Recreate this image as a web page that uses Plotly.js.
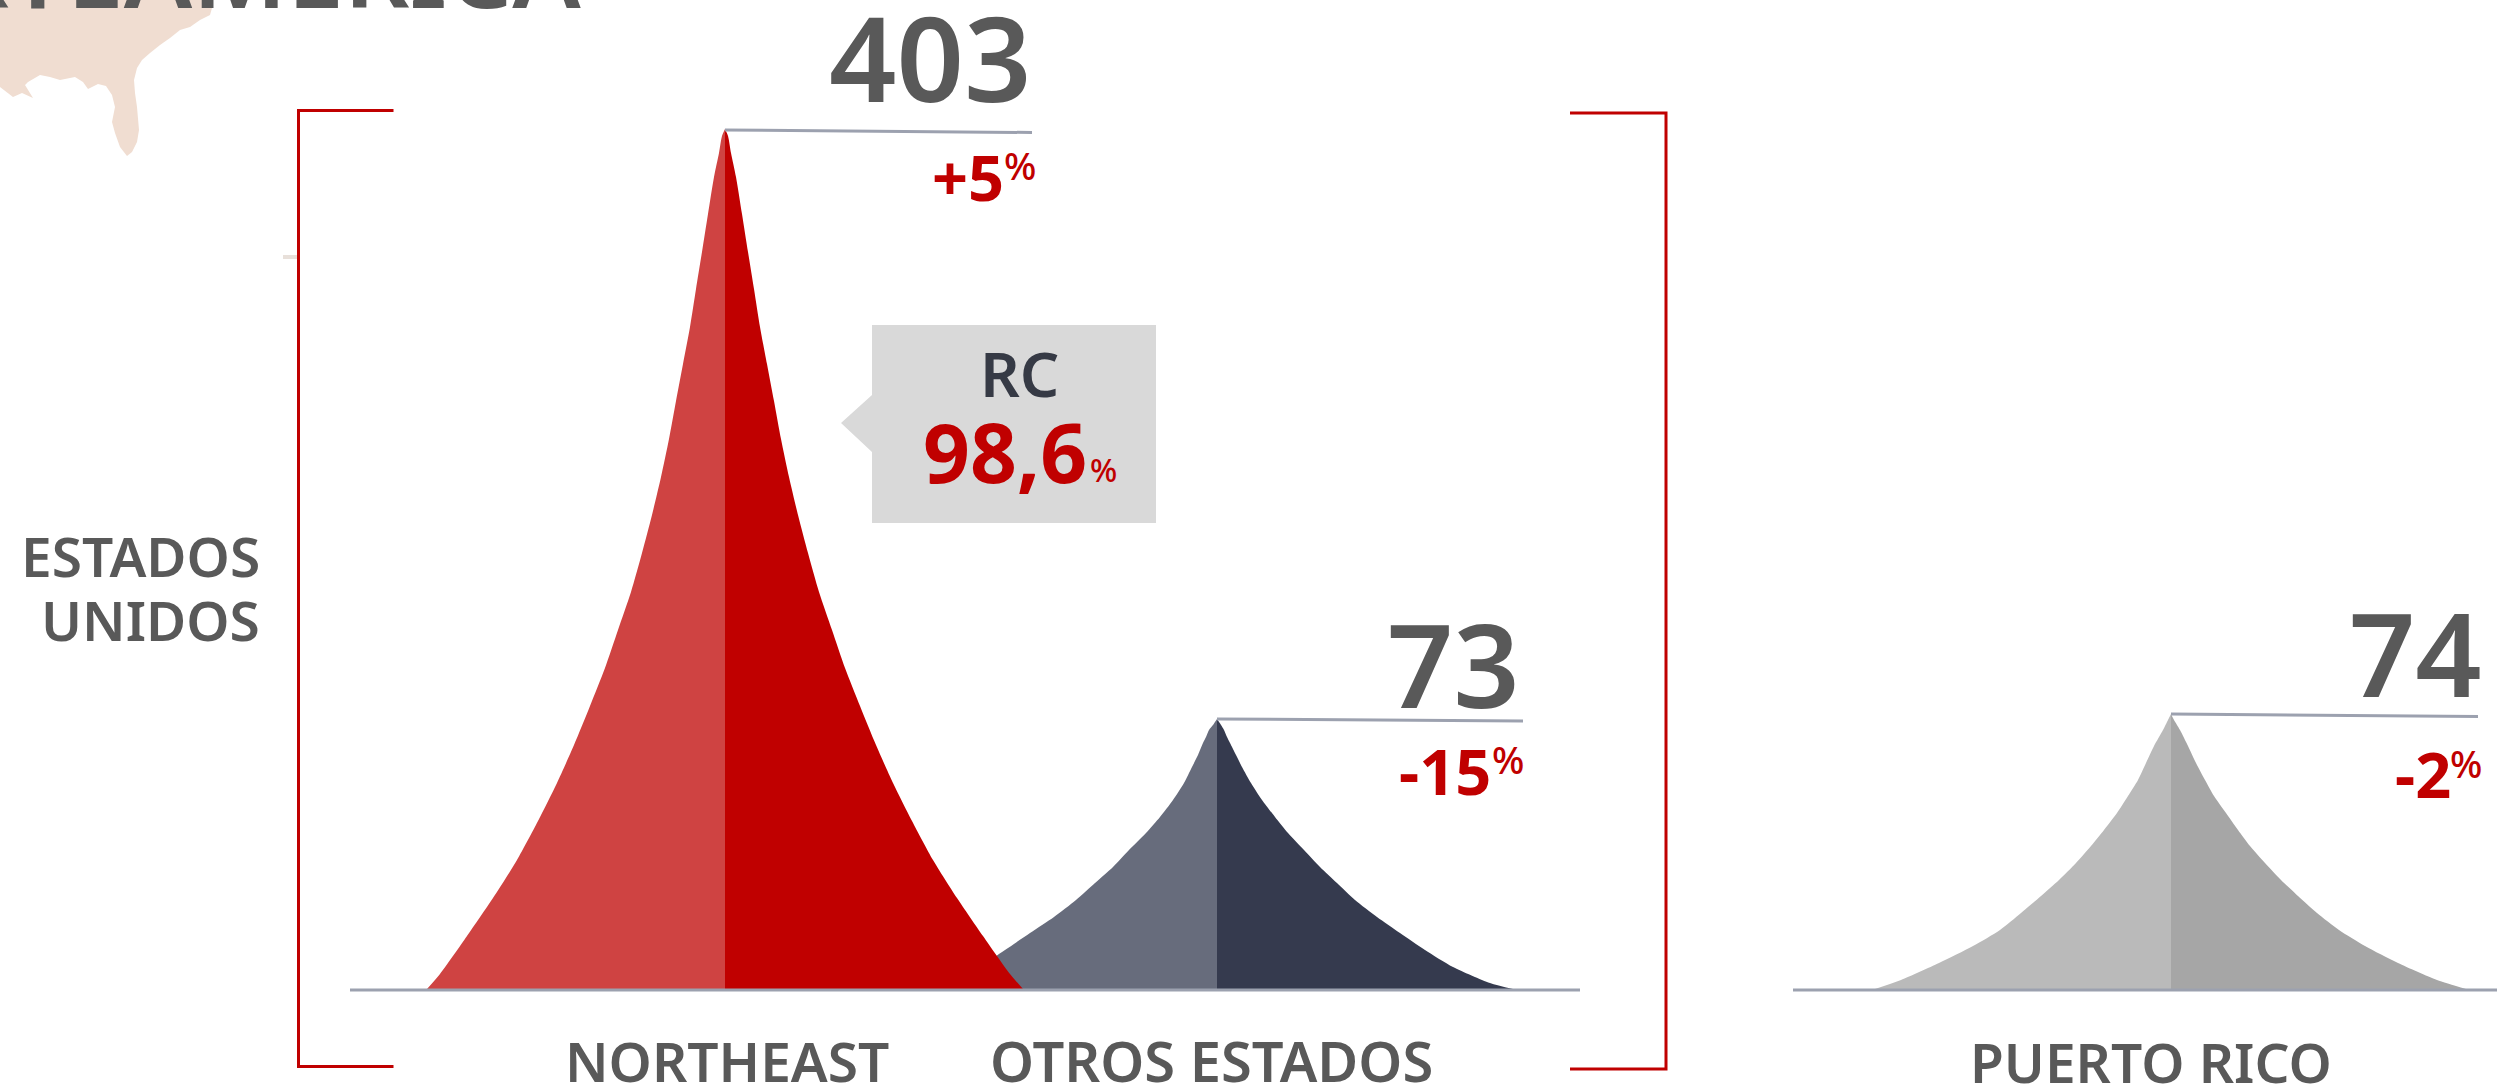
<!DOCTYPE html>
<html>
<head>
<meta charset="utf-8">
<script src="https://cdn.plot.ly/plotly-3.0.1.min.js"></script>
<style>html,body{margin:0;padding:0;background:#fff;overflow:hidden}</style>
</head>
<body>
<div id="chart" style="width:2497px;height:1087px"></div>
<script>
// Height above the baseline and half-width of each peak (foot to tip)
const northeastHeights = [0,15,53,91,129,168,206,244,283,321,359,397,436,474,512,550,588,625,662,700,737,775,812,836,853,860];
const northeastHalfWidth = [298,285,258,232,208,187,168,151,135,120,107,94,83,73,64,56,49,42,35,29,23,17,11,6,3,0];
const otrosHeights = [0,6,22,39,56,72,89,106,122,139,156,172,189,206,222,234,246,252,259,264,270];
const otrosHalfLeft = [296,273,238,212,187,163,141,122,104,88,71,57,44,33,25,19,14,11,8,4,0];
const otrosHalfRight = [296,273,236,208,183,160,138,120,103,87,71,58,45,34,25,19,13,10,7,4,0];
const ricoHeights = [0,9,26,43,59,76,93,109,126,143,159,176,193,209,226,243,259,269,275];
const ricoHalfLeft = [296,270,232,198,171,150,130,112,95,80,67,54,43,33,25,17,8,3,0];
const ricoHalfRight = [295,266,227,194,168,146,127,110,94,79,67,55,43,34,25,17,9,3,0];
const labels = ["NORTHEAST","OTROS ESTADOS","PUERTO RICO"];
const totals = ["403","73","74"];
const changes = ["+5","-15","-2"];

const W = 2497, H = 1087, BASE = 989;
const h = py => BASE - py;           // page row -> height above baseline
const GREY = "#595959", RED = "#C00000", RULE = "#9CA1AF";
const FONT = '"Noto Sans", "Open Sans", sans-serif';

function half(peakX, heights, offs, dir, fill) {
  return {x: offs.map(o => peakX + dir * o), y: heights, mode:"lines", fill:"tozeroy", fillcolor:fill,
          line:{width:0, color:fill, simplify:false, shape:"spline", smoothing:0.7}, hoverinfo:"skip", showlegend:false};
}
function line(xs, pys, color, width) {
  return {x:xs, y:pys.map(h), mode:"lines", line:{color, width}, hoverinfo:"skip", showlegend:false};
}
function poly(xs, pys, fill) {
  return {x:xs, y:pys.map(h), mode:"lines", fill:"toself", fillcolor:fill, line:{width:0,color:fill,simplify:false}, hoverinfo:"skip", showlegend:false};
}

const mapX = [0,213,212,210,200,190,180,170,160,150,142,137,134,135,137,139,137,132,127,120,115,112,115,112,106,98,88,83,75,60,50,40,28,25,33,22,13,0];
const mapY = [0,0,8,15,20,27,30,38,45,53,60,68,80,93,107,130,142,152,156,147,133,122,107,95,86,84,89,82,77,80,77,75,82,85,98,93,97,87];

const traces = [
  poly(mapX, mapY, "#F0DDD1"),
  line([283,297],[257,257],"#E8E0DA",4),
  half(1217, otrosHeights, otrosHalfLeft, -1, "#676C7C"),
  half(1217, otrosHeights, otrosHalfRight, 1, "#353A4E"),
  half(725, northeastHeights, northeastHalfWidth, -1, "#CF4342"),
  half(725, northeastHeights, northeastHalfWidth, 1, RED),
  half(2171, ricoHeights, ricoHalfLeft, -1, "#BABABA"),
  half(2171, ricoHeights, ricoHalfRight, 1, "#A6A6A6"),
  line([350,1580],[990,990],RULE,3),
  line([1793,2497],[990,990],RULE,3),
  line([725,1032],[130,132.5],RULE,3),
  line([1217,1523],[719,721],RULE,3),
  line([2171,2478],[714,716.5],RULE,3),
  line([393.5,298.5,298.5,393.5],[110.5,110.5,1066.5,1066.5],RED,3),
  line([1570,1666,1666,1570],[113,113,1069,1069],RED,3),
  poly([841,872,872,1156,1156,872,872,841],[423,395,325,325,523,523,452,423],"#D9D9D9")
];

// text placed by its baseline
function T(text, x, baseline, size, color, anchor, weight) {
  return {text, x, y:h(baseline), xref:"x", yref:"y", xanchor:anchor, yanchor:"bottom",
    yshift:-size*0.293, showarrow:false, borderpad:0, borderwidth:0,
    font:{family:FONT, size, color, weight:weight||600}};
}
const annotations = [
  T("NORTEAMERICA",581,8,102,GREY,"right"),
  T(totals[0],1032,102,118,GREY,"right"),
  T(totals[1],1520,708,116,GREY,"right"),
  T(totals[2],2482,697,116,GREY,"right"),
  T(changes[0],1004,201,63,RED,"right",700),
  T("%",1036,180,38,RED,"right",500),
  T(changes[1],1491,795,63,RED,"right",700),
  T("%",1524,774,38,RED,"right",500),
  T(changes[2],2451,798,63,RED,"right",700),
  T("%",2482,778,38,RED,"right",500),
  T("RC",1019,397,62,"#363A45","center"),
  T("98,6",1087,483,82,RED,"right",700),
  T("%",1117,482,32,RED,"right",500),
  T(labels[0],727,1082,55,GREY,"center"),
  T(labels[1],1211,1082,56,GREY,"center"),
  T(labels[2],2151,1083,55,GREY,"center"),
  T("ESTADOS",260,577,55,GREY,"right"),
  T("UNIDOS",260,641,55,GREY,"right")
];

Plotly.newPlot("chart", traces, {
  width:W, height:H, margin:{l:0,r:0,t:0,b:0,pad:0},
  paper_bgcolor:"#fff", plot_bgcolor:"#fff", showlegend:false,
  xaxis:{range:[0,W], visible:false, fixedrange:true},
  yaxis:{range:[BASE-H,BASE], visible:false, fixedrange:true},
  annotations
}, {displayModeBar:false, staticPlot:true});
</script>
</body>
</html>
